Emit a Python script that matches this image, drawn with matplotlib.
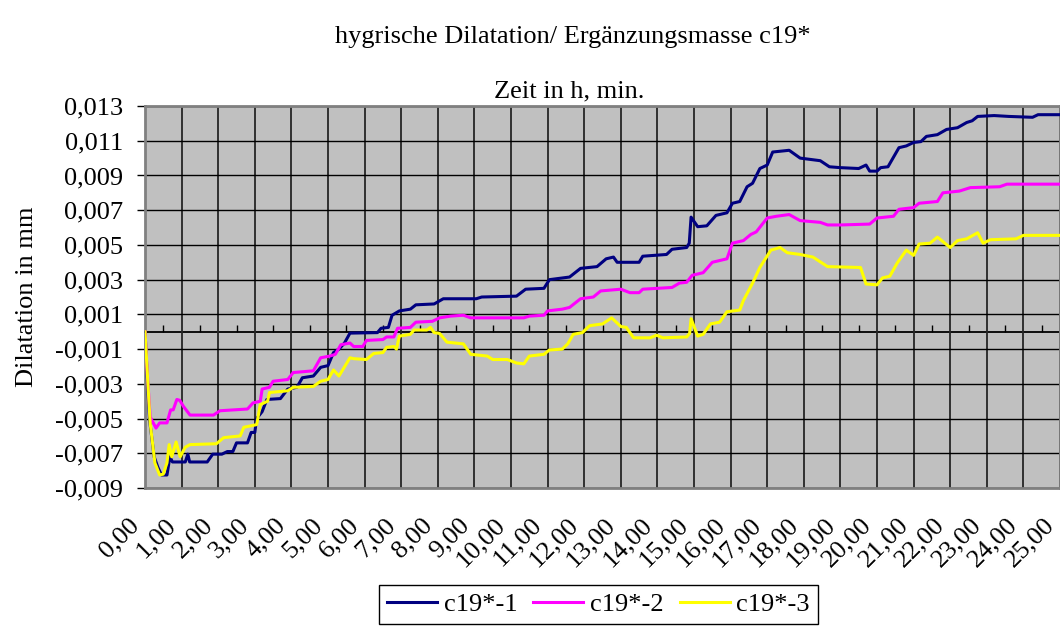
import matplotlib
matplotlib.use('Agg')
import matplotlib.pyplot as plt
from matplotlib.ticker import FuncFormatter
from matplotlib.transforms import ScaledTranslation

plt.rcParams['font.family'] = ['Liberation Serif', 'DejaVu Serif']

title = 'hygrische Dilatation/ Ergänzungsmasse c19*'
x_title = 'Zeit in h, min.'
y_title = 'Dilatation in mm'

hours = list(range(0, 26))
y_ticks = [-0.009, -0.007, -0.005, -0.003, -0.001, 0.001, 0.003, 0.005, 0.007, 0.009, 0.011, 0.013]

# time in h, dilatation in 1/1000 mm
t1 = [0.0, 0.12, 0.25, 0.35, 0.45, 0.6, 0.68, 0.75, 1.1, 1.17, 1.22, 1.7, 1.85, 2.1, 2.25, 2.4,
      2.5, 2.8, 2.9, 3.0, 3.05, 3.2, 3.33, 3.7, 3.9, 4.15, 4.3, 4.6, 4.8, 5.0, 5.15, 5.3, 5.45,
      5.6, 6.35, 6.45, 6.65, 6.75, 6.95, 7.25, 7.4, 7.9, 8.15, 9.05, 9.2, 10.15, 10.4, 10.9,
      11.05, 11.6, 11.9, 12.35, 12.6, 12.8, 12.9, 13.5, 13.6, 14.25, 14.4, 14.8, 14.87, 14.92,
      15.1, 15.35, 15.6, 15.9, 16.05, 16.25, 16.45, 16.6, 16.8, 17.0, 17.15, 17.6, 17.9, 18.45,
      18.7, 19.0, 19.5, 19.7, 19.8, 20.0, 20.1, 20.3, 20.45, 20.6, 20.8, 21.0, 21.2, 21.35,
      21.65, 21.9, 22.2, 22.45, 22.6, 22.75, 23.2, 23.6, 24.25, 24.4, 25.0]
c1 = [0.0, -5.0, -7.2, -7.8, -8.25, -8.25, -7.2, -7.5, -7.5, -7.05, -7.5, -7.5, -7.05, -7.05,
      -6.9, -6.9, -6.4, -6.4, -5.8, -5.8, -5.0, -4.6, -3.9, -3.85, -3.3, -3.2, -2.65, -2.55,
      -2.05, -1.95, -1.2, -1.0, -0.65, -0.08, -0.05, 0.2, 0.25, 0.95, 1.2, 1.3, 1.55, 1.6, 1.9,
      1.9, 2.0, 2.05, 2.45, 2.5, 3.0, 3.15, 3.65, 3.75, 4.2, 4.3, 4.0, 4.0, 4.35, 4.45, 4.75,
      4.85, 5.1, 6.6, 6.05, 6.1, 6.7, 6.85, 7.4, 7.5, 8.35, 8.55, 9.4, 9.6, 10.35, 10.45, 10.0,
      9.85, 9.5, 9.45, 9.4, 9.6, 9.25, 9.25, 9.45, 9.5, 10.05, 10.6, 10.7, 10.9, 10.95, 11.25,
      11.35, 11.65, 11.75, 12.05, 12.15, 12.4, 12.45, 12.4, 12.35, 12.5, 12.5]

t2 = [0.0, 0.05, 0.14, 0.3, 0.4, 0.6, 0.7, 0.77, 0.87, 0.95, 1.05, 1.23, 1.87, 2.05, 2.8, 2.95,
      3.15, 3.2, 3.4, 3.5, 3.9, 4.05, 4.6, 4.8, 5.05, 5.2, 5.35, 5.6, 5.7, 5.95, 6.05, 6.5, 6.6,
      6.8, 6.9, 7.25, 7.4, 7.85, 8.05, 8.35, 8.7, 8.9, 10.35, 10.5, 10.9, 11.0, 11.4, 11.6,
      11.9, 12.25, 12.45, 13.0, 13.25, 13.5, 13.6, 14.4, 14.6, 14.8, 14.95, 15.25, 15.5, 15.9,
      16.05, 16.35, 16.55, 16.7, 17.0, 17.25, 17.6, 17.9, 18.45, 18.65, 19.0, 19.8, 20.0,
      20.45, 20.6, 21.0, 21.15, 21.65, 21.8, 22.25, 22.55, 23.35, 23.55, 25.0]
c2 = [0.0, -2.0, -4.9, -5.55, -5.25, -5.25, -4.5, -4.5, -3.9, -3.95, -4.3, -4.8, -4.8, -4.55,
      -4.45, -4.1, -4.0, -3.3, -3.2, -2.85, -2.75, -2.35, -2.25, -1.5, -1.4, -1.3, -0.75, -0.65,
      -0.85, -0.85, -0.5, -0.45, -0.3, -0.3, 0.2, 0.25, 0.55, 0.6, 0.8, 0.9, 0.95, 0.8, 0.8,
      0.9, 0.95, 1.2, 1.3, 1.4, 1.9, 2.0, 2.35, 2.45, 2.25, 2.25, 2.45, 2.55, 2.8, 2.85, 3.25,
      3.4, 4.0, 4.2, 5.1, 5.25, 5.6, 5.75, 6.55, 6.65, 6.75, 6.4, 6.3, 6.15, 6.15, 6.2, 6.55,
      6.65, 7.05, 7.15, 7.4, 7.5, 8.0, 8.1, 8.3, 8.35, 8.5, 8.5]

t3 = [0.0, 0.14, 0.27, 0.4, 0.5, 0.6, 0.66, 0.73, 0.85, 0.96, 1.1, 1.23, 1.95, 2.15, 2.6, 2.7,
      3.05, 3.15, 3.35, 3.4, 3.9, 4.05, 4.6, 4.8, 5.0, 5.15, 5.3, 5.6, 5.7, 6.05, 6.25, 6.5,
      6.6, 6.8, 6.87, 6.95, 7.25, 7.35, 7.7, 7.8, 7.9, 8.05, 8.25, 8.7, 8.9, 9.35, 9.5, 9.9,
      10.15, 10.35, 10.5, 10.9, 11.05, 11.4, 11.55, 11.7, 11.95, 12.15, 12.5, 12.75, 13.0,
      13.15, 13.35, 13.8, 13.98, 14.15, 14.8, 14.88, 14.92, 15.1, 15.25, 15.45, 15.7, 15.9,
      16.25, 16.35, 16.6, 16.8, 17.1, 17.35, 17.55, 17.9, 18.25, 18.65, 19.55, 19.7, 20.0,
      20.15, 20.35, 20.55, 20.8, 21.0, 21.15, 21.45, 21.65, 22.0, 22.2, 22.45, 22.75, 22.9,
      23.1, 23.8, 24.0, 25.0]
c3 = [0.0, -5.25, -7.55, -8.25, -8.2, -7.55, -6.5, -7.2, -6.35, -7.2, -6.65, -6.5, -6.45,
      -6.1, -6.0, -5.5, -5.35, -4.2, -4.0, -3.5, -3.4, -3.2, -3.15, -2.85, -2.75, -2.2, -2.55,
      -1.5, -1.55, -1.6, -1.25, -1.2, -0.9, -0.85, -1.0, -0.25, -0.15, 0.1, 0.1, 0.25, -0.05,
      -0.1, -0.6, -0.7, -1.3, -1.4, -1.6, -1.6, -1.8, -1.85, -1.4, -1.3, -1.05, -1.0, -0.7,
      -0.15, -0.05, 0.35, 0.45, 0.8, 0.3, 0.25, -0.35, -0.35, -0.2, -0.35, -0.3, -0.1, 0.75,
      -0.25, -0.15, 0.45, 0.55, 1.15, 1.25, 1.8, 2.8, 3.7, 4.7, 4.85, 4.55, 4.45, 4.3, 3.75,
      3.7, 2.75, 2.7, 3.1, 3.2, 3.95, 4.7, 4.4, 5.05, 5.1, 5.45, 4.85, 5.25, 5.35, 5.7, 5.1,
      5.3, 5.35, 5.55, 5.55]

series = [
    ('c19*-1', t1, c1, '#000080'),
    ('c19*-2', t2, c2, '#FF00FF'),
    ('c19*-3', t3, c3, '#FFFF00'),
]

fig = plt.figure(figsize=(10.6, 6.28), dpi=100)
ax = fig.add_axes([0.1368, 0.2229, 0.8632, 0.6083])
ax.set_facecolor('#C0C0C0')

for name, t, c, col in series:
    ax.plot(t, [v / 1000 for v in c], color=col, lw=2.2, label=name, zorder=3)

ax.set_xlim(0, 25)
ax.set_ylim(-0.009, 0.013)
ax.set_xticks(hours)
ax.set_yticks(y_ticks)
ax.xaxis.set_major_formatter(FuncFormatter(lambda v, p: f'{int(round(v))},00'))
ax.yaxis.set_major_formatter(FuncFormatter(lambda v, p: f'{v:.3f}'.replace('.', ',')))

ax.grid(axis='y', color='black', lw=1.0, zorder=1)
ax.grid(axis='x', color='#262626', lw=1.3, zorder=1)
ax.set_axisbelow(True)

for sp in ax.spines.values():
    sp.set_color('#808080')
    sp.set_linewidth(2)

ax.tick_params(axis='y', direction='out', length=6, width=1, color='black', pad=10, labelsize=19)
ax.tick_params(axis='x', length=0, pad=24, labelsize=19)
# rotated hour labels, nudged left so their ends sit just before the grid line
shift = ScaledTranslation(-0.09, 0, fig.dpi_scale_trans)
for lbl in ax.get_xticklabels():
    lbl.set(rotation=45, ha='right', va='center', rotation_mode='anchor')
    lbl.set_transform(lbl.get_transform() + shift)

# zero axis with small ticks between the hours
zero_ax = ax.secondary_xaxis(0, transform=ax.transData)
zero_ax.set_xticks([h + 0.5 for h in hours[:-1]])
zero_ax.tick_params(direction='in', length=5, width=1, color='black', labelbottom=False)
zero_ax.spines['bottom'].set_color('black')
zero_ax.spines['bottom'].set_linewidth(1.3)

ax.set_ylabel(y_title, fontsize=19)
ax.yaxis.set_label_coords(-0.117, 0.5)

fig.text(0.540, 1 - 37 / 628, title, ha='center', va='center', fontsize=19)
fig.text(0.537, 1 - 91 / 628, x_title, ha='center', va='center', fontsize=19)

leg = ax.legend(loc='upper center', bbox_to_anchor=(0.5646, 1 - 585 / 628),
                bbox_transform=fig.transFigure, ncol=3, fontsize=19, frameon=True,
                fancybox=False, edgecolor='black', framealpha=1, borderpad=0.3,
                handlelength=1.9, handletextpad=0.25, columnspacing=0.6, borderaxespad=0)
leg.get_frame().set_linewidth(1.0)

fig.savefig('out.png', dpi=100)
